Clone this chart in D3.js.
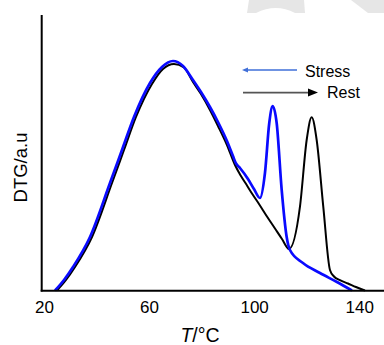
<!DOCTYPE html>
<html>
<head>
<meta charset="utf-8">
<script src="https://cdn.jsdelivr.net/npm/d3@7"></script>
<style>
  html, body { margin: 0; padding: 0; background: #fff; }
  svg { display: block; }
  text { font-family: "Liberation Sans", Arial, Helvetica, sans-serif; fill: #000; }
</style>
</head>
<body>
<div id="chart"></div>
<script>
// ---- Data ----
const xTicks = [20, 60, 100, 140];
const seriesNames = ["Stress", "Rest"];

const tempStress = [24.19, 27.61, 31.04, 37.51, 45.12, 49.69, 54.26, 60.35, 64.92, 69.1, 72.91, 76.72, 79.76, 83.19, 86.24, 89.66, 91.94, 93.09, 94.61, 97.66, 99.94, 102.22, 104.12, 105.76, 107.06, 108.58, 110.48, 112.39, 113.64, 118.59, 125.06, 131.53, 137.24];
const dtgStress  = [0, 3.81, 8.53, 19.42, 39.02, 51.0, 62.98, 75.32, 81.13, 83.3, 81.49, 76.41, 72.05, 66.61, 61.16, 54.26, 48.82, 46.1, 44.46, 40.47, 36.84, 33.58, 42.65, 60.8, 66.97, 60.8, 36.63, 19.42, 14.7, 10.0, 6.35, 3.09, 0];

const tempRest = [24.95, 28.37, 31.8, 38.27, 45.89, 50.45, 55.02, 61.11, 65.3, 69.49, 73.29, 76.72, 79.76, 83.19, 86.24, 89.66, 92.71, 94.99, 97.28, 99.56, 101.85, 104.89, 107.94, 110.6, 113.27, 117.45, 120.0, 121.9, 123.81, 126.32, 128.87, 130.4, 132.68, 135.73, 138.77, 142.2];
const dtgRest  = [0, 3.81, 8.53, 19.42, 39.02, 51.0, 62.98, 74.96, 80.4, 82.21, 80.94, 75.68, 71.32, 65.52, 59.71, 52.81, 45.55, 41.56, 38.11, 34.66, 31.4, 26.86, 22.5, 18.69, 15.06, 30.42, 54.63, 62.87, 54.63, 30.42, 7.44, 5.08, 3.74, 2.54, 1.27, 0];

// ---- Layout ----
const W = 384, H = 345;
const svg = d3.select("#chart").append("svg").attr("width", W).attr("height", H);

// faint watermark shapes at the top
svg.append("path")
  .attr("d", "M249,0 L304,0 L305,13 L295,13 Q276,3 256,13 L247,13 Z")
  .attr("fill", "#e6e6e6");
svg.append("path")
  .attr("d", "M351,0 L384,0 L384,13 L368,13 Z")
  .attr("fill", "#e6e6e6");

const x = d3.scaleLinear().domain([20, 140]).range([44, 359.2]);
const y = d3.scaleLinear().domain([0, 100]).range([290.5, 15]);

// curves
const line = d3.line().x(d => x(d[0])).y(d => y(d[1])).curve(d3.curveMonotoneX);
const rest = tempRest.map((t, i) => [t, dtgRest[i]]);
const stress = tempStress.map((t, i) => [t, dtgStress[i]]);

svg.append("path").datum(rest)
  .attr("d", line).attr("fill", "none")
  .attr("stroke", "#000").attr("stroke-width", 2).attr("stroke-linejoin", "round");
svg.append("path").datum(stress)
  .attr("d", line).attr("fill", "none")
  .attr("stroke", "#0a0aff").attr("stroke-width", 2.7).attr("stroke-linejoin", "round");

// axes frame lines
svg.append("line").attr("x1", 41.7).attr("x2", 41.7).attr("y1", 15).attr("y2", 291.5)
  .attr("stroke", "#000").attr("stroke-width", 2);
svg.append("line").attr("x1", 40.7).attr("x2", 384).attr("y1", 290.7).attr("y2", 290.7)
  .attr("stroke", "#000").attr("stroke-width", 2);

// x axis tick labels
const xAxis = d3.axisBottom(x).tickValues(xTicks).tickSize(0).tickPadding(0).tickFormat(d3.format("d"));
const gx = svg.append("g").call(xAxis);
gx.select(".domain").remove();
gx.selectAll("text")
  .attr("y", 313).attr("dy", null)
  .style("font-size", "17px")
  .style("font-family", "'Liberation Sans', Arial, sans-serif")
  .attr("fill", "#000");

// axis titles
const xt = svg.append("text").attr("x", 200).attr("y", 341.5).attr("text-anchor", "middle")
  .style("font-size", "19.5px");
xt.append("tspan").style("font-style", "italic").text("T");
xt.append("tspan").text("/°C");

svg.append("text")
  .attr("transform", "translate(26.5,167.5) rotate(-90)")
  .attr("text-anchor", "middle")
  .style("font-size", "18.5px")
  .text("DTG/a.u");

// legend
svg.append("line").attr("x1", 297).attr("x2", 246).attr("y1", 70).attr("y2", 70)
  .attr("stroke", "#3f6fd8").attr("stroke-width", 1.6);
svg.append("path").attr("d", "M242,70 L248,67.5 L248,72.5 Z").attr("fill", "#3f6fd8");
svg.append("text").attr("x", 305).attr("y", 77).style("font-size", "16px").text(seriesNames[0]);

svg.append("line").attr("x1", 243).attr("x2", 310).attr("y1", 92.6).attr("y2", 92.6)
  .attr("stroke", "#555").attr("stroke-width", 1.6);
svg.append("path").attr("d", "M308,88.6 L318,92.6 L308,96.6 Z").attr("fill", "#000");
svg.append("text").attr("x", 327).attr("y", 97.5).style("font-size", "16px").text(seriesNames[1]);
</script>
</body>
</html>
